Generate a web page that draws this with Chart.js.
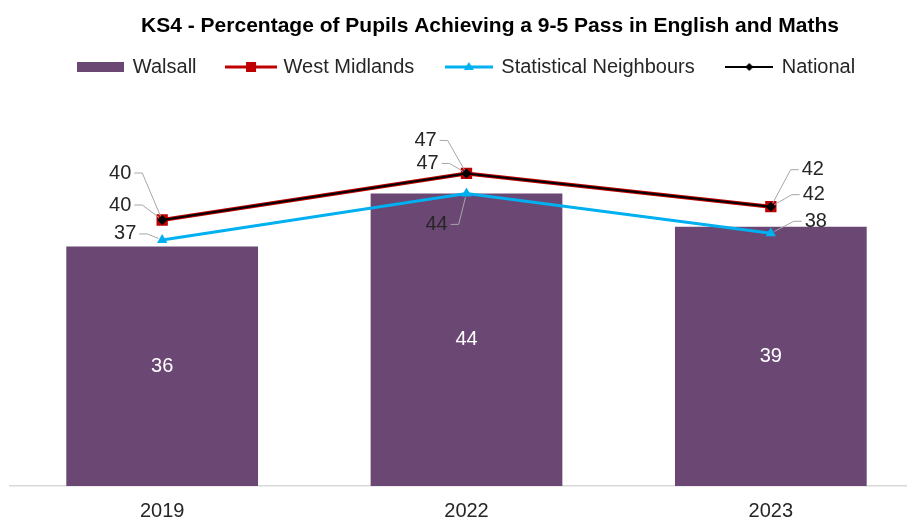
<!DOCTYPE html>
<html>
<head>
<meta charset="utf-8">
<script src="https://cdn.jsdelivr.net/npm/chart.js@4"></script>
<style>
  html, body { margin: 0; padding: 0; background: #ffffff; overflow: hidden; }
  #wrap { position: relative; width: 937px; height: 523px; }
</style>
</head>
<body>
<div id="wrap"><canvas id="chart"></canvas></div>
<script>
// ---- data ----
const chartTitle = 'KS4 - Percentage of Pupils Achieving a 9-5 Pass in English and Maths';
const years = ['2019', '2022', '2023'];
const walsall = [36, 44, 39];
const westMidlands = [40, 47, 42];
const statNeighbours = [37, 44, 38];
const national = [40, 47, 42];
const seriesNames = ['Walsall', 'West Midlands', 'Statistical Neighbours', 'National'];
const yMin = 0;
const yMax = 50;

// ---- style ----
const FONT = '"Liberation Sans", Arial, Helvetica, sans-serif';
const colours = {
  walsall: '#6b4774',
  westMidlands: '#c00000',
  statNeighbours: '#00b0f0',
  national: '#000000',
  text: '#262626',
  leader: '#a6a6a6',
  axis: '#d9d9d9'
};
const layoutPad = { top: 25, right: 14, bottom: -13, left: 10 };
const plotTop = 153.5;           // top edge of the plotting area
const titlePos = { x: 490, y: 32 };

// label offsets (px) from each point: [dx, dy] per year
const labelOffsets = {
  'West Midlands': [[-42, -15], [-39, -10], [43, -12]],
  'Statistical Neighbours': [[-37, -6], [-30, 31], [45, -12]],
  'National': [[-42, -47], [-41, -33], [42, -37]]
};

// legend symbols drawn onto small canvases
function makeSymbol(w, h, draw) {
  const c = document.createElement('canvas');
  c.width = w; c.height = h;
  draw(c.getContext('2d'), w, h);
  return c;
}
const legendSymbols = [
  makeSymbol(47, 14, (g, w, h) => { g.fillStyle = colours.walsall; g.fillRect(0, 2, w, 10); }),
  makeSymbol(52, 14, (g, w, h) => {
    g.strokeStyle = colours.westMidlands; g.lineWidth = 3;
    g.beginPath(); g.moveTo(0, 7); g.lineTo(w, 7); g.stroke();
    g.fillStyle = colours.westMidlands; g.fillRect(w / 2 - 5, 2, 10, 10);
  }),
  makeSymbol(48, 14, (g, w, h) => {
    g.strokeStyle = colours.statNeighbours; g.lineWidth = 3;
    g.beginPath(); g.moveTo(0, 7); g.lineTo(w, 7); g.stroke();
    g.fillStyle = colours.statNeighbours;
    g.beginPath(); g.moveTo(w / 2, 2); g.lineTo(w / 2 + 5, 10); g.lineTo(w / 2 - 5, 10); g.closePath(); g.fill();
  }),
  makeSymbol(48, 14, (g, w, h) => {
    g.strokeStyle = colours.national; g.lineWidth = 2;
    g.beginPath(); g.moveTo(0, 7); g.lineTo(w, 7); g.stroke();
    g.fillStyle = colours.national;
    g.beginPath(); g.moveTo(w / 2, 3); g.lineTo(w / 2 + 4, 7); g.lineTo(w / 2, 11); g.lineTo(w / 2 - 4, 7); g.closePath(); g.fill();
  })
];

// title drawn centred over the chart
const titlePlugin = {
  id: 'titleText',
  afterDraw(chart) {
    const ctx = chart.ctx;
    ctx.save();
    ctx.font = 'bold 21px ' + FONT;
    ctx.fillStyle = '#000000';
    ctx.textAlign = 'center';
    ctx.textBaseline = 'alphabetic';
    ctx.fillText(chartTitle, titlePos.x, titlePos.y);
    ctx.restore();
  }
};

// keep the legend box tall enough so the plot starts at plotTop
const legendSpacer = {
  id: 'legendSpacer',
  beforeLayout(chart) {
    const legend = chart.legend;
    if (!legend || legend._spaced) return;
    const fit = legend.fit;
    legend.fit = function () {
      fit.call(this);
      this.height = plotTop - layoutPad.top;
    };
    legend._spaced = true;
  }
};

// value labels: inside bars, and beside line points with leader lines
const valueLabels = {
  id: 'valueLabels',
  afterDatasetsDraw(chart) {
    const ctx = chart.ctx;
    ctx.save();
    ctx.font = '20px ' + FONT;
    ctx.textBaseline = 'middle';
    chart.data.datasets.forEach((ds, di) => {
      const meta = chart.getDatasetMeta(di);
      if (meta.type === 'bar') {
        ctx.fillStyle = '#ffffff';
        ctx.textAlign = 'center';
        meta.data.forEach((bar, i) => {
          const p = bar.getProps(['x', 'y', 'base'], true);
          ctx.fillText(String(ds.data[i]), p.x, (p.y + p.base) / 2);
        });
        return;
      }
      const offs = labelOffsets[ds.label];
      if (!offs) return;
      meta.data.forEach((pt, i) => {
        const p = pt.getProps(['x', 'y'], true);
        const [dx, dy] = offs[i];
        const text = String(ds.data[i]);
        const lx = p.x + dx, ly = p.y + dy;
        const w = ctx.measureText(text).width;
        const leftOf = dx < 0;
        const sx = leftOf ? lx + w / 2 + 3 : lx - w / 2 - 3;
        const hx = leftOf ? sx + 8 : sx - 8;
        let vx = hx - p.x, vy = ly - p.y;
        const len = Math.hypot(vx, vy) || 1;
        vx /= len; vy /= len;
        ctx.strokeStyle = colours.leader;
        ctx.lineWidth = 1;
        ctx.beginPath();
        ctx.moveTo(sx, ly);
        ctx.lineTo(hx, ly);
        ctx.lineTo(p.x + vx * 4, p.y + vy * 4);
        ctx.stroke();
        ctx.fillStyle = colours.text;
        ctx.textAlign = 'center';
        ctx.fillText(text, lx, ly);
      });
    });
    ctx.restore();
  }
};

new Chart(document.getElementById('chart'), {
  data: {
    labels: years,
    datasets: [
      {
        type: 'bar', label: seriesNames[0], data: walsall, order: 3,
        backgroundColor: colours.walsall, borderWidth: 0,
        barPercentage: 0.63, categoryPercentage: 1
      },
      {
        type: 'line', label: seriesNames[1], data: westMidlands, order: 2,
        borderColor: colours.westMidlands, borderWidth: 4, tension: 0, fill: false,
        pointStyle: 'rect', pointRadius: 8, pointBackgroundColor: colours.westMidlands,
        pointBorderColor: colours.westMidlands, pointBorderWidth: 0
      },
      {
        type: 'line', label: seriesNames[2], data: statNeighbours, order: 1,
        borderColor: colours.statNeighbours, borderWidth: 3, tension: 0, fill: false,
        pointStyle: 'triangle', pointRadius: 6, pointBackgroundColor: colours.statNeighbours,
        pointBorderColor: colours.statNeighbours, pointBorderWidth: 0
      },
      {
        type: 'line', label: seriesNames[3], data: national, order: 0,
        borderColor: colours.national, borderWidth: 2, tension: 0, fill: false,
        pointStyle: 'rectRot', pointRadius: 5, pointBackgroundColor: colours.national,
        pointBorderColor: colours.national, pointBorderWidth: 0
      }
    ]
  },
  options: {
    responsive: true,
    maintainAspectRatio: false,
    devicePixelRatio: 1,
    animation: false,
    events: [],
    layout: { padding: layoutPad },
    scales: {
      x: {
        type: 'category',
        offset: true,
        grid: { display: false, drawTicks: false },
        border: { display: true, color: colours.axis, width: 1.5 },
        ticks: { color: colours.text, padding: 13, font: { size: 20, family: FONT } }
      },
      y: {
        display: false,
        min: yMin,
        max: yMax
      }
    },
    plugins: {
      title: { display: false },
      tooltip: { enabled: false },
      legend: {
        display: true,
        position: 'top',
        labels: {
          usePointStyle: true,
          pointStyleWidth: 45,
          boxHeight: 14,
          padding: 32,
          color: colours.text,
          font: { size: 20, family: FONT },
          generateLabels(chart) {
            const items = Chart.defaults.plugins.legend.labels.generateLabels(chart);
            items.forEach(it => { it.pointStyle = legendSymbols[it.datasetIndex]; });
            return items;
          },
          sort: (a, b) => a.datasetIndex - b.datasetIndex
        }
      }
    }
  },
  plugins: [legendSpacer, valueLabels, titlePlugin]
});
</script>
</body>
</html>
